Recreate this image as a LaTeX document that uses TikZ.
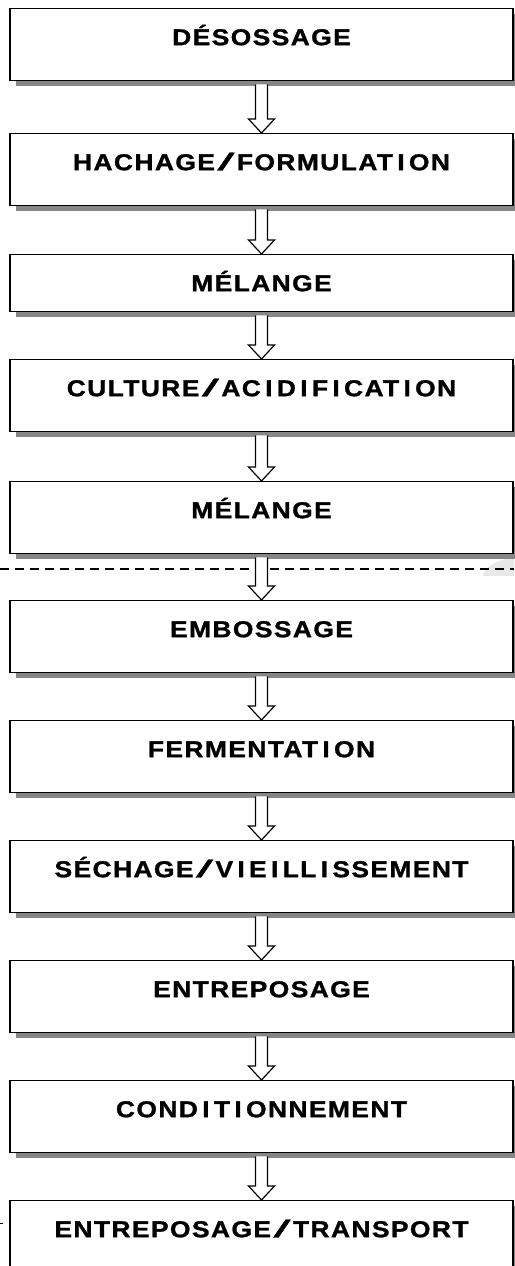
\documentclass[tikz,border=0pt]{standalone}
\usepackage{fontspec}
\usepackage{graphicx}
\setmainfont{Liberation Sans}[FakeStretch=1.15, LetterSpace=6, FakeBold=1.2]
\usetikzlibrary{shadows,calc}
\newcommand\Iw{\kern4.3pt I\kern4.3pt}
\newcommand\slw{\kern2.5pt{\mdseries\scalebox{2.3}[1.05]{/}}\kern2.5pt}
\newcommand\flowarrow[2]{%
  \draw[arrowbody] ([xshift=-6pt,yshift=-3pt]#1.south) -- ($(#2.north)+(-6,-14)$) -- ($(#2.north)+(-13,-14)$) -- (#2.north) -- ($(#2.north)+(13,-14)$) -- ($(#2.north)+(6,-14)$) -- ([xshift=6pt,yshift=-3pt]#1.south);}
\begin{document}
\begin{tikzpicture}[x=1pt,y=-1pt,
  stepbox/.style={draw=black, line width=1.4pt, fill=white, minimum width=503pt,
    inner xsep=0pt, inner ysep=0pt, text height=36.5pt, text depth=35.5pt, anchor=north,
    font=\fontsize{23}{26}\selectfont\bfseries,
    drop shadow={shadow xshift=5.5pt, shadow yshift=-5.5pt, fill=black!47, opacity=1}},
  shortbox/.style={text depth=20.5pt},
  lastbox/.style={text depth=43.5pt},
  arrowbody/.style={draw=black, fill=white, line width=1.2pt, line join=miter}]
\useasboundingbox (0,0) rectangle (514,1266);
\begin{scope}
  \clip (470,550) rectangle (514,575);
  \fill[black!9] (516,580) ellipse [x radius=34, y radius=22];
\end{scope}
\node[stepbox] (b1) at (261.5,8) {DÉSOSSAGE};
\node[stepbox] (b2) at (261.5,133) {HACHAGE\slw FORMULAT\Iw ON};
\node[stepbox,shortbox] (b3) at (261.5,254) {MÉLANGE};
\node[stepbox] (b4) at (261.5,359) {CULTURE\slw AC\Iw D\Iw F\Iw CAT\Iw ON};
\node[stepbox] (b5) at (261.5,481) {MÉLANGE};
\node[stepbox] (b6) at (261.5,600) {EMBOSSAGE};
\node[stepbox] (b7) at (261.5,720) {FERMENTAT\Iw ON};
\node[stepbox] (b8) at (261.5,840) {SÉCHAGE\slw V\Iw E\Iw LL\Iw SSEMENT};
\node[stepbox] (b9) at (261.5,960) {ENTREPOSAGE};
\node[stepbox] (b10) at (261.5,1080) {COND\Iw T\Iw ONNEMENT};
\node[stepbox,lastbox] (b11) at (261.5,1200) {ENTREPOSAGE\slw TRANSPORT};
\draw[line width=1.2pt, dash pattern=on 9pt off 6pt] (0,569) -- (514,569);
\flowarrow{b1}{b2}
\flowarrow{b2}{b3}
\flowarrow{b3}{b4}
\flowarrow{b4}{b5}
\flowarrow{b5}{b6}
\flowarrow{b6}{b7}
\flowarrow{b7}{b8}
\flowarrow{b8}{b9}
\flowarrow{b9}{b10}
\flowarrow{b10}{b11}
\draw[line width=1pt] (0,1223) -- (3,1223);
\end{tikzpicture}
\end{document}
